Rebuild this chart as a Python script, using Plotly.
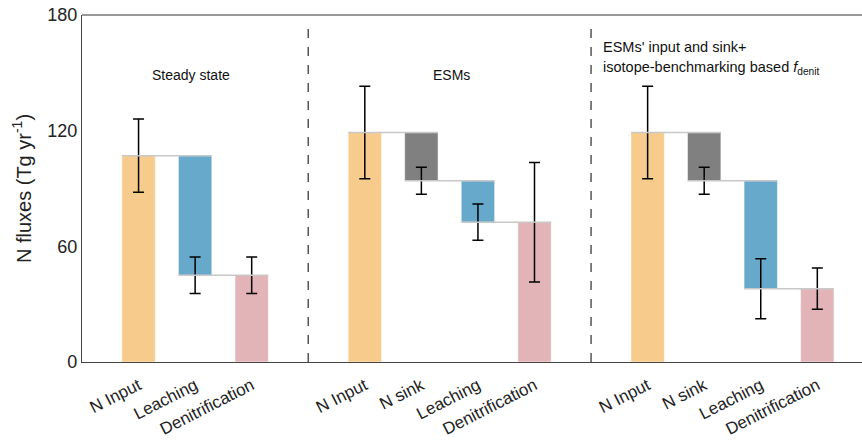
import plotly.graph_objects as go

# ---- data ----
panel_titles = ["Steady state", "ESMs",
                "ESMs' input and sink+",
                "isotope-benchmarking based <i>f</i><sub>denit</sub>"]
p1_labels = ["N Input", "Leaching", "Denitrification"]
p1_kinds = ["input", "loss", "final"]
p1_values = [107, 62, 45]
p1_errors = [19, 9.5, 9.5]

p2_labels = ["N Input", "N sink", "Leaching", "Denitrification"]
p2_kinds = ["input", "loss", "loss", "final"]
p2_values = [119, 25, 21.5, 72.5]
p2_errors = [24, 7, 9.4, 31]

p3_labels = ["N Input", "N sink", "Leaching", "Denitrification"]
p3_kinds = ["input", "loss", "loss", "final"]
p3_values = [119, 25, 56, 38]
p3_errors = [24, 7, 15.6, 10.7]

y_ticks = [0, 60, 120, 180]

colors = {"N Input": "#F7CB8B", "N sink": "#808080",
          "Leaching": "#67A9CB", "Denitrification": "#E2B4B8"}

panels = [(p1_labels, p1_kinds, p1_values, p1_errors),
          (p2_labels, p2_kinds, p2_values, p2_errors),
          (p3_labels, p3_kinds, p3_values, p3_errors)]

FONT = "Liberation Sans, Arial, Helvetica, sans-serif"
bar_w = 0.59

fig = go.Figure()
tickvals, ticktext = [], []
offsets = []
pos = 0
connectors = []
for labels, kinds, values, errors in panels:
    offsets.append(pos)
    level = 0
    xs, bases, heights, cols, err_y = [], [], [], [], []
    for i, (lab, kind, v) in enumerate(zip(labels, kinds, values)):
        x = pos + i
        if kind == "input":
            base, h = 0, v
            level = v
        elif kind == "loss":
            base, h = level - v, v
            level = level - v
        else:
            base, h = 0, v
            level = v
        xs.append(x); bases.append(base); heights.append(h)
        cols.append(colors[lab]); err_y.append(level)
        tickvals.append(x); ticktext.append(lab)
        if i < len(labels) - 1:
            connectors.append((x - bar_w / 2, x + 1 + bar_w / 2, level))
    fig.add_trace(go.Bar(x=xs, y=heights, base=bases, width=bar_w,
                         marker=dict(color=cols, line=dict(color="rgba(255,255,255,0.5)", width=1)),
                         showlegend=False, hoverinfo="skip"))
    fig.add_trace(go.Scatter(x=xs, y=err_y, mode="markers",
                             marker=dict(size=1, color="rgba(0,0,0,0)"),
                             error_y=dict(type="data", array=errors, visible=True,
                                          color="black", thickness=1.5, width=5.5),
                             showlegend=False, hoverinfo="skip"))
    pos += len(labels) + 1

for x0, x1, lv in connectors:
    fig.add_trace(go.Scatter(x=[x0, x1], y=[lv, lv], mode="lines",
                             line=dict(color="#c8c8c8", width=1.5),
                             showlegend=False, hoverinfo="skip"))

shapes = []
for k in range(1, len(offsets)):
    xsep = offsets[k] - 1
    shapes.append(dict(type="line", xref="x", yref="paper", x0=xsep, x1=xsep,
                       y0=0, y1=0.985, line=dict(color="#555555", width=1.5, dash="dash")))
# top frame line
shapes.append(dict(type="line", xref="paper", yref="paper", x0=0, x1=1, y0=1, y1=1,
                   line=dict(color="#777777", width=1.5)))

annotations = [
    dict(x=offsets[0] + 0.92, y=149, xref="x", yref="y", text=panel_titles[0], showarrow=False,
         font=dict(family=FONT, size=14, color="#111")),
    dict(x=offsets[1] + 1.53, y=149, xref="x", yref="y", text=panel_titles[1], showarrow=False,
         font=dict(family=FONT, size=14, color="#111")),
    dict(x=offsets[2] - 0.82, y=163.4, xref="x", yref="y", text=panel_titles[2], showarrow=False,
         xanchor="left", yanchor="middle", align="left",
         font=dict(family=FONT, size=14.5, color="#111")),
    dict(x=offsets[2] - 0.82, y=152.5, xref="x", yref="y", text=panel_titles[3], showarrow=False,
         xanchor="left", yanchor="middle", align="left",
         font=dict(family=FONT, size=14.5, color="#111")),
]

fig.update_layout(
    width=862, height=444,
    margin=dict(l=82, r=0, t=15, b=82),
    plot_bgcolor="white", paper_bgcolor="white",
    barmode="overlay",
    shapes=shapes, annotations=annotations,
    font=dict(family=FONT, color="#222"),
    hovermode=False,
    xaxis=dict(range=[-1, 12.79], tickvals=tickvals, ticktext=ticktext, tickangle=-27,
               tickfont=dict(family=FONT, size=17, color="#222"), showgrid=False,
               zeroline=False, showline=True, linecolor="#444", linewidth=1.2, ticks="",
               ticklabelstandoff=6, automargin=False),
    yaxis=dict(range=[0, 180], tickvals=y_ticks, showgrid=False, zeroline=False,
               showline=True, linecolor="#444", linewidth=1.2, ticks="",
               tickfont=dict(family=FONT, size=18, color="#222"), automargin=False,
               title=dict(text="N fluxes (Tg yr<sup>-1</sup>)", standoff=10,
                          font=dict(family=FONT, size=20, color="#222"))),
)

# remove the default page margin so the figure sits at the window's top-left corner
fig.write_html("out.html", config={"displayModeBar": False},
               post_script="document.body.style.margin='0';document.body.style.overflow='hidden';")
